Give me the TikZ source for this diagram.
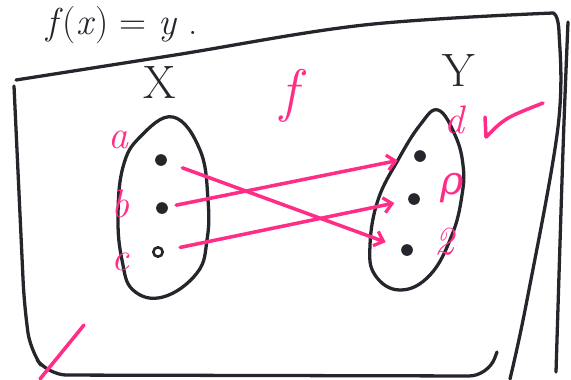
\documentclass[tikz,border=0pt]{standalone}
\usepackage{fontspec}
\newfontfamily\greekfont{DejaVu Serif}
\usepackage{tikz}
\usetikzlibrary{arrows.meta,positioning,calc}
\definecolor{ink}{HTML}{24262C}
\definecolor{pen}{HTML}{FF2D86}

\begin{document}
\begin{tikzpicture}[x=0.03cm,y=-0.03cm,
    dot/.style={circle,fill=ink,inner sep=0pt,minimum width=8.5pt,minimum height=10pt},
    ring/.style={circle,draw=ink,line width=2.2pt,inner sep=0pt,minimum size=8pt},
    lbl/.style={text=pen,font=\fontsize{34}{34}\selectfont\itshape},
    setname/.style={text=ink,font=\fontsize{40}{40}\selectfont},
    stroke/.style={ink,line width=2.8pt,line cap=round,line join=round},
    maps/.style={pen,line width=3pt,line cap=round,
      -{Straight Barb[length=7pt,width=13pt,line width=2.8pt]}}]
  \useasboundingbox (0,0) rectangle (571,379);
  % title
  \node[text=ink,font=\fontsize{32}{32}\selectfont,anchor=west,inner sep=0pt] (title) at (46,25) {\textit{f}(\textit{x}) = \textit{y} .};
  % frame, hand drawn
  \draw[stroke] plot[smooth,tension=0.6] coordinates {(16,80) (175,55) (364,25) (553,13)};
  \draw[stroke] plot[smooth,tension=0.6] coordinates {(553,13) (559,32) (558,127) (527,300) (510,379)};
  \draw[stroke] plot[smooth,tension=0.6] coordinates {(568,22) (563,150) (556,372)};
  \draw[stroke,rounded corners=16pt] (14,86) -- (24,300) -- (30,350) -- (48,375) -- (488,376) -- (497,352);
  % the two sets
  \draw[stroke] plot[smooth cycle,tension=0.7] coordinates {(173,117) (200,150) (208,200) (207,240)
    (197,273) (163,297) (133,290) (122,260) (118,217) (123,167) (140,137)};
  \draw[stroke] plot[smooth cycle,tension=0.7] coordinates {(438,110) (455,135) (463,165) (462,195)
    (452,235) (430,275) (400,290) (375,275) (370,245) (378,200) (398,160) (420,125)};
  \node[setname] (X) at (160,82) {X};
  \node[setname] (Y) at (459,70) {Y};
  \node[text=pen,font=\fontsize{50}{50}\selectfont\itshape] (f) at (289,96) {f};
  % elements of X
  \node[dot] (xa) at (161,160) {};
  \node[dot] (xb) at (162,208) {};
  \node[ring] (xc) at (158,252) {};
  \node[lbl] (la) at (118,140) {a};
  \node[lbl] (lb) at (120,204) {b};
  \node[lbl] (lc) at (120,262) {c};
  % elements of Y
  \node[dot] (yd) at (420,156) {};
  \node[dot] (ye) at (414,199) {};
  \node[dot] (yf) at (407,250) {};
  \node[lbl] (ld) at (454,120) {d};
  \node[lbl] (le) at (452,188) {\greekfont ρ};
  \node[lbl] (lf) at (444,242) {2};
  % the map f
  \draw[maps,shorten <=0.5cm,shorten >=0.5cm] (xa) -- (yf);
  \draw[maps,shorten <=0.25cm,shorten >=0.5cm] (xb) -- (yd);
  \draw[maps,shorten <=0.5cm,shorten >=0.42cm] (xc) -- (ye);
  % tick and stray mark
  \draw[pen,line width=3pt,line cap=round,line join=round] (485,117) -- (486,137) .. controls (505,118) .. (543,103);
  \draw[pen,line width=3pt,line cap=round] (84,325) -- (40,379);
\end{tikzpicture}
\end{document}
